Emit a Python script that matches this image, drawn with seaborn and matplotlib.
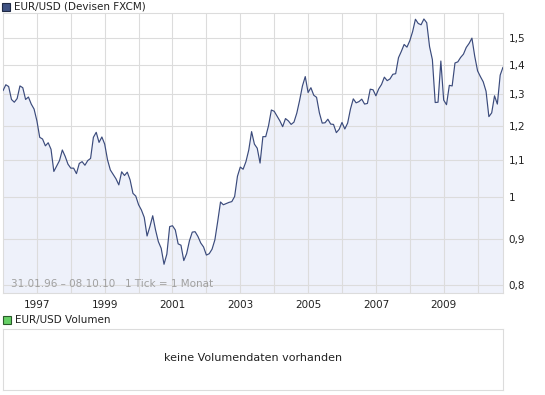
import numpy as np
import pandas as pd
import seaborn as sns
import matplotlib.pyplot as plt
from matplotlib.patches import Rectangle

# monthly EUR/USD closes, Jan 1996 - Oct 2010
y1996 = [1.312, 1.332, 1.326, 1.283, 1.274, 1.286, 1.328, 1.322, 1.283, 1.291, 1.268, 1.252]
y1997 = [1.215, 1.165, 1.160, 1.140, 1.149, 1.130, 1.068, 1.083, 1.098, 1.128, 1.110, 1.088]
y1998 = [1.077, 1.077, 1.062, 1.090, 1.095, 1.085, 1.098, 1.104, 1.165, 1.180, 1.150, 1.166]
y1999 = [1.145, 1.100, 1.072, 1.060, 1.048, 1.032, 1.067, 1.057, 1.066, 1.045, 1.010, 1.003]
y2000 = [0.981, 0.968, 0.950, 0.906, 0.928, 0.954, 0.920, 0.893, 0.878, 0.843, 0.865, 0.928]
y2001 = [0.930, 0.920, 0.888, 0.885, 0.851, 0.866, 0.895, 0.915, 0.916, 0.905, 0.890, 0.881]
y2002 = [0.863, 0.866, 0.876, 0.897, 0.940, 0.988, 0.981, 0.984, 0.987, 0.989, 1.002, 1.055]
y2003 = [1.080, 1.074, 1.095, 1.128, 1.182, 1.145, 1.133, 1.091, 1.167, 1.167, 1.200, 1.249]
y2004 = [1.245, 1.230, 1.215, 1.197, 1.222, 1.215, 1.204, 1.211, 1.239, 1.280, 1.328, 1.360]
y2005 = [1.306, 1.322, 1.297, 1.290, 1.240, 1.208, 1.209, 1.220, 1.205, 1.204, 1.179, 1.189]
y2006 = [1.210, 1.190, 1.208, 1.252, 1.285, 1.272, 1.276, 1.284, 1.268, 1.270, 1.317, 1.315]
y2007 = [1.295, 1.318, 1.333, 1.358, 1.346, 1.352, 1.368, 1.370, 1.427, 1.450, 1.476, 1.466]
y2008 = [1.490, 1.525, 1.574, 1.557, 1.552, 1.575, 1.560, 1.468, 1.420, 1.273, 1.274, 1.415]
y2009 = [1.281, 1.266, 1.330, 1.328, 1.408, 1.412, 1.428, 1.440, 1.465, 1.480, 1.500, 1.432]
y2010 = [1.380, 1.360, 1.342, 1.310, 1.228, 1.240, 1.295, 1.268, 1.365, 1.393]

rate = (y1996 + y1997 + y1998 + y1999 + y2000 + y2001 + y2002 + y2003
        + y2004 + y2005 + y2006 + y2007 + y2008 + y2009 + y2010)
month = np.arange(len(rate))
df = pd.DataFrame({'t': 1996 + month / 12, 'rate': rate})

yticks = [0.8, 0.9, 1.0, 1.1, 1.2, 1.3, 1.4, 1.5]
ylabels = ['0,8', '0,9', '1', '1,1', '1,2', '1,3', '1,4', '1,5']
years = list(range(1997, 2011))
year_labels = [str(y) if y % 2 == 1 else '' for y in years]

line_col = '#3b4b7c'
fill_col = '#eef1fa'
grid_col = '#dcdcdc'

sns.set_style('white')
plt.rcParams['font.family'] = ['DejaVu Sans']

W, H = 545, 395
fig = plt.figure(figsize=(W / 100, H / 100), dpi=100)
ax = fig.add_axes([3 / W, (H - 293) / H, 500 / W, 279.7 / H])

ax.fill_between(df.t, df.rate, 0.5, color=fill_col, lw=0, zorder=0)
sns.lineplot(data=df, x='t', y='rate', ax=ax, color=line_col, linewidth=0.85, zorder=3)

ax.set_yscale('log')
ax.set_ylim(0.7835, 1.598)
ax.set_xlim(1996, df.t.iloc[-1])
ax.set_yticks(yticks)
ax.set_yticklabels(ylabels)
ax.yaxis.set_minor_locator(plt.NullLocator())
ax.set_xticks(years)
ax.set_xticklabels(year_labels)
ax.yaxis.tick_right()
ax.tick_params(axis='both', length=0, labelsize=7.5, colors='#222222')
ax.tick_params(axis='y', pad=4)
ax.tick_params(axis='x', pad=5)
ax.grid(True, color=grid_col, linewidth=0.8)
ax.set_axisbelow(True)
ax.set_xlabel('')
ax.set_ylabel('')
for s in ax.spines.values():
    s.set_color(grid_col)
    s.set_linewidth(0.8)

ax.text(8 / 500, 0.033, '31.01.96 \u2013 08.10.10   1 Tick = 1 Monat', transform=ax.transAxes,
        fontsize=7.5, color='#a0a0a0', va='center', ha='left')

# header legend
fig.patches.append(Rectangle((2 / W, 1 - 11 / H), 8 / W, 8 / H, transform=fig.transFigure,
                             facecolor='#3f5283', edgecolor='#202a44', lw=0.8))
fig.text(14 / W, 1 - 6.5 / H, 'EUR/USD (Devisen FXCM)', fontsize=7.5, va='center', ha='left',
         color='#222222')

# volume panel
fig.patches.append(Rectangle((3 / W, 1 - 324 / H), 8 / W, 8 / H, transform=fig.transFigure,
                             facecolor='#66d066', edgecolor='#2a5a2a', lw=0.8))
fig.text(15 / W, 1 - 320 / H, 'EUR/USD Volumen', fontsize=7.5, va='center', ha='left',
         color='#222222')
ax2 = fig.add_axes([3 / W, (H - 390) / H, 500 / W, 61 / H])
ax2.set_xticks([])
ax2.set_yticks([])
for s in ax2.spines.values():
    s.set_color(grid_col)
    s.set_linewidth(0.8)
ax2.text(0.5, 0.52, 'keine Volumendaten vorhanden', transform=ax2.transAxes,
         ha='center', va='center', fontsize=8, color='#222222')

fig.savefig('out.png', dpi=100)
